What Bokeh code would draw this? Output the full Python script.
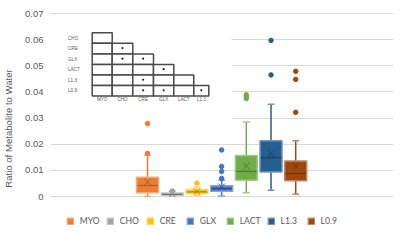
from bokeh.plotting import figure
from bokeh.models import Range1d, FixedTicker, CustomJSTickFormatter, Legend, LegendItem
from bokeh.core.properties import value
from bokeh.embed import file_html
from bokeh.resources import INLINE

# ---------------- data ----------------
categories = ["MYO", "CHO", "CRE", "GLX", "LACT", "L1.3", "L0.9"]
colors = ["#ED7D31", "#A5A5A5", "#FFC000", "#4472C4", "#70AD47", "#255E91", "#9E480E"]
q1 = [0.0014, 0.0005, 0.0011, 0.0020, 0.0062, 0.0094, 0.0060]
median = [0.0042, 0.0008, 0.0018, 0.0030, 0.0096, 0.0149, 0.0088]
q3 = [0.0074, 0.0013, 0.0027, 0.0041, 0.0157, 0.0213, 0.0136]
lower = [0.0000, 0.0002, 0.0005, 0.0002, 0.0014, 0.0024, 0.0009]
upper = [0.0158, 0.0019, 0.0035, 0.0062, 0.0285, 0.0353, 0.0213]
mean = [0.0056, 0.0010, 0.0019, 0.0037, 0.0117, 0.0164, 0.0116]
outliers = [
    [0.0165, 0.0279],
    [0.0021],
    [0.0051],
    [0.0069, 0.0096, 0.0115, 0.0178],
    [0.0375, 0.0382, 0.0389],
    [0.0465, 0.0597],
    [0.0322, 0.0448, 0.0479],
]
yticks = [0, 0.01, 0.02, 0.03, 0.04, 0.05, 0.06, 0.07]
y_title = "Ratio of Metabolite to Water"

# significance table (inserted picture)
table_rows = ["CHO", "CRE", "GLX", "LACT", "L1.3", "L0.9"]
table_cols = ["MYO", "CHO", "CRE", "GLX", "LACT", "L1.3"]
significant = [("CRE", "CHO"), ("GLX", "CHO"), ("GLX", "CRE"), ("LACT", "GLX"),
               ("L1.3", "CRE"), ("L0.9", "CRE"), ("L0.9", "GLX"), ("L0.9", "L1.3")]

# ---------------- layout ----------------
W, H = 400, 248
FL, FR, FT, FB = 50, 393, 12, 244   # frame extends below the zero line to hold the legend
ZERO_PX = 196
X0, X1 = -3.93, 9.96
PX_PER = 183 / 0.07
Y1 = 0.07 + 1 / PX_PER
Y0 = -(FB - ZERO_PX) / PX_PER


def xd(px):
    return X0 + (px - FL) * (X1 - X0) / (FR - FL)


def yd(px):
    return Y1 - (px - FT) * (Y1 - Y0) / (FB - FT)


def mix(c, other, t):
    c = c.lstrip("#")
    o = other.lstrip("#")
    r = [int(c[i:i + 2], 16) for i in (0, 2, 4)]
    s = [int(o[i:i + 2], 16) for i in (0, 2, 4)]
    m = [round(a * (1 - t) + b * t) for a, b in zip(r, s)]
    return "#%02x%02x%02x" % tuple(m)


FONT = "Liberation Sans"
TXT = "#595959"

p = figure(width=W, height=H, x_range=Range1d(X0, X1), y_range=Range1d(Y0, Y1),
           output_backend="svg", toolbar_location=None,
           min_border_left=FL, min_border_right=W - FR,
           min_border_top=FT, min_border_bottom=H - FB)
p.outline_line_color = None
p.background_fill_color = "white"
p.border_fill_color = "white"
p.xaxis.visible = False
p.xgrid.visible = False
p.ygrid.ticker = FixedTicker(ticks=yticks)
p.ygrid.grid_line_color = "#D9D9D9"
p.ygrid.grid_line_width = 1
ax = p.yaxis[0]
ax.ticker = FixedTicker(ticks=yticks)
ax.formatter = CustomJSTickFormatter(code="return tick == 0 ? '0' : tick.toFixed(2);")
ax.axis_line_color = None
ax.major_tick_line_color = None
ax.minor_tick_line_color = None
ax.major_tick_in = 0
ax.major_tick_out = 0
ax.major_label_standoff = 7
ax.major_label_text_font = FONT
ax.major_label_text_font_size = "9.5px"
ax.major_label_text_color = TXT
ax.axis_label = y_title
ax.axis_label_text_font = FONT
ax.axis_label_text_font_size = "9.6px"
ax.axis_label_text_font_style = "normal"
ax.axis_label_text_color = TXT
ax.axis_label_standoff = 8

# white picture background hiding gridlines under the table
p.quad(left=[X0], right=[xd(231)], top=[yd(14.5)], bottom=[yd(119.5)],
       fill_color="white", line_color=None)

# ---------------- box plots ----------------
box_w = 0.89
cap_w = 0.28
items = []
for i, name in enumerate(categories):
    col = colors[i]
    dark = mix(col, "#000000", 0.3)
    light = mix(col, "#FFFFFF", 0.35)
    p.segment(x0=[i, i], y0=[q3[i], lower[i]], x1=[i, i], y1=[upper[i], q1[i]],
              line_color=col, line_width=1.5)
    p.segment(x0=[i - cap_w / 2, i - cap_w / 2], y0=[upper[i], lower[i]],
              x1=[i + cap_w / 2, i + cap_w / 2], y1=[upper[i], lower[i]],
              line_color=light, line_width=1.5)
    r = p.quad(left=[i - box_w / 2], right=[i + box_w / 2], bottom=[q1[i]], top=[q3[i]],
               fill_color=col, line_color=light, line_width=1.5)
    items.append(LegendItem(label=name, renderers=[r]))
    p.segment(x0=[i - box_w / 2 + 0.03], y0=[median[i]], x1=[i + box_w / 2 - 0.03], y1=[median[i]],
              line_color=dark, line_width=1.2)
    p.scatter(x=[i], y=[mean[i]], marker="x", size=9, line_color=dark, line_width=1)
    p.scatter(x=[i] * len(outliers[i]), y=outliers[i], marker="circle", size=4.5,
              fill_color=col, line_color=col)

# ---------------- significance table ----------------
T_LEFT = 91.7
T_TOP = 32.3
COL_W = [20.0, 20.6, 20.7, 20.3, 20.0, 15.0]
ROW_H = 10.55
col_edges = [T_LEFT]
for w in COL_W:
    col_edges.append(col_edges[-1] + w)
lefts, rights, tops, bottoms = [], [], [], []
for r_i, _ in enumerate(table_rows):
    for c_i in range(r_i + 1):
        lefts.append(xd(col_edges[c_i]))
        rights.append(xd(col_edges[c_i + 1]))
        tops.append(yd(T_TOP + r_i * ROW_H))
        bottoms.append(yd(T_TOP + (r_i + 1) * ROW_H))
p.quad(left=lefts, right=rights, top=tops, bottom=bottoms,
       fill_color="white", line_color="#4a4a4a", line_width=1.5)

dx, dy = [], []
for rn, cn in significant:
    r_i = table_rows.index(rn)
    c_i = table_cols.index(cn)
    dx.append(xd((col_edges[c_i] + col_edges[c_i + 1]) / 2))
    dy.append(yd(T_TOP + (r_i + 0.45) * ROW_H))
p.scatter(x=dx, y=dy, marker="circle", size=2.2, fill_color="#222222", line_color=None)

p.text(x=[xd(67.5)] * len(table_rows),
       y=[yd(T_TOP + (k + 0.5) * ROW_H) for k in range(len(table_rows))],
       text=table_rows, text_font=value(FONT), text_font_size="4.6px",
       text_color=TXT, text_baseline="middle", text_align="left")
p.text(x=[xd((col_edges[k] + col_edges[k + 1]) / 2) for k in range(len(table_cols))],
       y=[yd(T_TOP + len(table_rows) * ROW_H + 3.5)] * len(table_cols),
       text=table_cols, text_font=value(FONT), text_font_size="4.6px",
       text_color=TXT, text_baseline="middle", text_align="center")

# ---------------- legend ----------------
legend = Legend(items=items, orientation="horizontal", location=(15.7, 18),
                glyph_width=8, glyph_height=8, label_standoff=6, spacing=6,
                padding=0, margin=0, border_line_color=None, background_fill_alpha=0,
                label_text_font="Lato", label_text_font_size="8.6px",
                label_text_color=TXT, label_height=8)
p.add_layout(legend)

open("out.html", "w").write(file_html(p, INLINE))
